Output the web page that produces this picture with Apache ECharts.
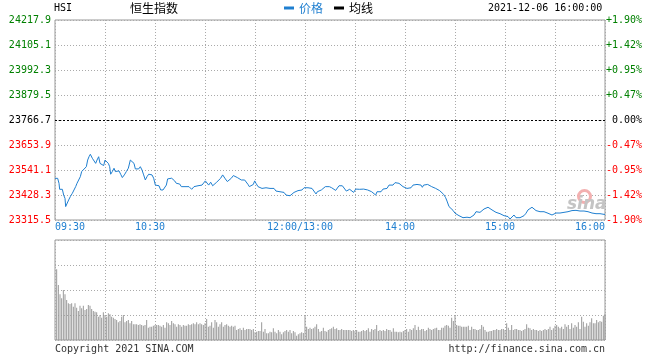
<!DOCTYPE html>
<html><head><meta charset="utf-8">
<script src="https://cdn.jsdelivr.net/npm/echarts@6/dist/echarts.min.js"></script>
<style>html,body{margin:0;padding:0;background:#fff}#c{width:660px;height:360px}</style>
</head><body><div id="c"></div>
<script>
// ---- data ----
const prevClose = 23766.7;
const priceStep = 112.8;
// minutes after 09:30 (trading minutes, lunch break removed)
const priceTimes = [0,1.6,2.4,2.8,3.8,4.4,5.2,6.0,6.4,7.2,8.2,9.2,10.4,11.6,12.4,13.2,14.4,15.2,16.0,17.2,18.8,19.6,20.4,21.2,22.4,23.6,24.4,25.2,26.2,27.0,28.2,29.2,30.0,31.2,32.0,32.8,33.4,34.4,35.4,36.2,37.2,38.4,39.4,40.4,41.6,42.8,44.0,45.2,46.4,47.4,48.2,49.2,50.2,51.2,52.2,53.2,54.2,55.2,56.2,57.2,58.2,59.2,60.2,61.2,62.4,63.4,64.8,66.0,66.8,67.6,68.8,70.0,70.8,71.8,72.8,73.8,74.8,75.8,76.8,78.0,79.2,80.4,81.2,82.0,82.8,
83.4,84.6,85.8,87.0,88.2,89.4,90.2,91.4,92.2,93.4,94.6,95.8,97.0,98.2,99.4,100.6,101.4,102.2,103.4,104.6,105.8,107.0,108.2,109.4,110.6,111.8,113.0,113.8,115.0,115.8,116.6,117.8,119.0,119.8,120.6,121.8,123.0,124.2,125.4,126.6,127.8,129.0,130.2,131.4,132.6,133.8,135.0,136.2,137.4,138.6,139.8,141.0,142.2,143.4,144.6,145.8,147.0,148.2,149.4,150.6,151.8,153.0,154.2,155.4,156.6,157.4,158.6,159.8,161.0,162.2,163.4,164.6,
166.0,167.2,168.4,169.2,170.4,171.2,172.4,173.6,174.8,175.6,176.8,178.0,179.2,180.4,181.6,182.8,184.0,185.2,186.4,187.6,188.8,190.0,191.2,192.4,193.2,194.4,195.6,196.8,198.0,199.2,200.4,201.6,202.8,204.0,205.2,206.4,207.6,208.8,210.0,211.2,212.4,213.6,214.8,216.0,217.2,218.4,219.6,220.4,221.2,222.4,223.6,224.8,226.0,227.2,228.4,229.6,230.8,232.0,233.2,234.4,235.2,236.4,237.6,238.8,240.0,241.2,242.4,243.6,244.8,246.0,247.2,
249.0,250.2,251.4,252.6,253.8,255.0,256.2,257.4,258.6,259.8,261.0,262.2,263.4,264.6,265.8,267.0,268.2,269.4,270.6,271.8,273.0,274.2,275.4,276.6,277.8,279.0,280.2,281.4,282.6,283.8,285.0,286.2,287.4,288.6,289.8,291.0,292.2,293.4,294.6,295.8,297.0,298.2,299.4,300.6,301.8,303.0,304.2,305.4,306.6,307.8,309.0,310.2,311.4,312.6,313.8,315.0,316.2,317.4,318.6,319.8,321.0,322.2,323.4,324.6,325.8,327.0,328.2,329.4,330];
const prices = [23503.5,23503.5,23481,23454,23446,23454,23428,23413,23376,23383,23406,23421,23436,23436,23466,23481,23489,23511,23534,23541,23556,23586,23601,23612,23594,23586,23571,23586,23601,23571,23571,23561,23586,23579,23571,23556,23522,23534,23549,23534,23541,23537,23522,23507,23519,23534,23549,23586,23586,23571,23546,23549,23546,23556,23541,23519,23496,23511,23522,23531,23519,23504,23473,23466,23470,23451,23451,23446,23473,23501,23496,23504,23508,23492,23481,23473,23478,23466,23458,23466,23466,23466,23470,23454,23451,
23466,23473,23470,23470,23473,23481,23492,23486,23473,23486,23470,23476,23486,23489,23504,23519,23511,23501,23489,23492,23504,23516,23516,23507,23504,23496,23489,23496,23496,23476,23466,23473,23476,23492,23481,23466,23466,23458,23454,23461,23461,23458,23458,23458,23446,23443,23443,23436,23440,23428,23421,23425,23431,23440,23443,23448,23451,23451,23461,23470,23461,23461,23458,23451,23433,23443,23448,23451,23458,23466,23466,23466,
23461,23455,23449,23455,23470,23476,23470,23464,23446,23451,23454,23446,23440,23455,23458,23454,23446,23455,23455,23451,23449,23443,23436,23428,23443,23451,23443,23455,23458,23458,23473,23466,23473,23484,23481,23481,23476,23466,23458,23458,23461,23461,23473,23473,23476,23476,23473,23463,23473,23476,23476,23473,23466,23461,23458,23454,23448,23440,23431,23416,23401,23376,23368,23359,23346,23343,23335,23331,23326,23332,23328,
23326,23334,23338,23353,23356,23350,23359,23365,23371,23373,23368,23361,23353,23350,23341,23344,23338,23335,23335,23331,23320,23316,23338,23326,23326,23326,23331,23335,23346,23361,23361,23373,23365,23358,23356,23353,23359,23353,23350,23346,23343,23338,23334,23347,23350,23347,23349,23350,23349,23353,23349,23358,23353,23359,23353,23356,23356,23356,23358,23353,23346,23347,23344,23344,23344,23344,23338,23341,23341];
// volume per minute, 09:31 .. 16:00 (relative units, panel max 100)
const volumes = [70.7,55,45.7,41.7,50,45.7,40,36.7,36,36.7,
33.3,36.7,32.3,29,34.3,31.7,34.3,30,31,35,
34.3,31,29,28.3,27.7,23.3,25,22.3,27.7,25,
23.3,26.7,25.7,23.3,22.3,21,20,17.7,19,23.3,
25,17.7,19,20,16.7,19,15.7,15.7,15.7,15,
15.7,15,14.3,15,20,12.3,13.3,13.3,14.3,15,
15,15,14.3,13.3,15,12.3,17.7,16.7,15,19,
16.7,15.7,13.3,15.7,15,13.3,15,14.3,14.3,15.7,
15,15.7,16.7,15.7,17.7,15.7,16.7,15.7,15,16.7,
21,13.3,14.3,17.7,12.3,20,17.7,13.3,15.7,17.7,
13.3,15,15.7,14.3,13.3,14.3,13.3,14.3,10,11,
11.7,10,12.3,10,11,11,11,10,11,7.7,
8.3,9,9,17.7,8.3,11,6.7,6.7,8.3,7.7,
11.7,8.3,6.7,10,8.3,5.7,7.7,9,10,8.3,
10,6.7,9,7.7,4.3,5.7,6.7,7.7,7,24.3,
13.3,11,12.3,11,11.7,13.3,15.7,11,8.3,9,
12.3,9,8.3,10,11,11.7,13.3,11,11.7,10,
10,11,10,10,10,10,10,9,10,9,
10,8.3,8.3,9,10,9,10,11.7,8.3,11,
10,11,15,9,10,9,10,9,11,10,
10,8.3,11.7,8.3,8.3,7.7,8.3,7.7,9,10,
11,8.3,11,10,11.7,15,10,13.3,10,11,
11,9,10,12.3,11,10,11,11.7,12.3,10,
10,12.3,12.3,14.3,15,14.3,12.3,22.3,19,24.3,
15,14.3,14.3,13.3,13.3,13.3,13.3,14.3,10,13.3,
11,11,10,10,11,15,13.3,10,8.3,8.3,
9,9,10,10,11,10,10,11,11,10,
16.7,12.3,10,15,10,11,11,10,10,9,
10,11,15.7,12.3,11.7,10,11,10,10,9,
10,9,10,11,10,11,13.3,10,11.7,14.3,
15,13.3,11.7,13.3,11,15.7,13.3,15,11,16.7,
12.3,15,13.3,17.7,11,23.3,18.3,13.3,16.7,14.3,
17.7,21.7,16.7,16.7,20,17.7,19,18.3,24.3,25.7];
const timeTickMinutes = [0,60,150,210,270,330];
const timeTickLabels = ['09:30','10:30','12:00/13:00','14:00','15:00','16:00'];

// ---- chart ----
const mono = "'DejaVu Sans Mono', monospace";
const cjk = "'Noto Sans CJK SC', sans-serif";
const blue = '#1f7fd0';
const gridColor = '#aaaaaa';
const dotted = [1, 2];

const chart = echarts.init(document.getElementById('c'), null, {renderer: 'canvas'});
const priceData = priceTimes.map((t, i) => [t, +(prices[i] - prevClose).toFixed(2)]);
const volData = volumes.map((v, i) => [i + 1, v]);

function timeLabel(v) {
  const k = timeTickMinutes.indexOf(v);
  if (k < 0) return '';
  if (k === 0) return '{a|' + timeTickLabels[k] + '}';
  if (k === timeTickMinutes.length - 1) return '{b|' + timeTickLabels[k] + '}';
  return '{c|' + timeTickLabels[k] + '}';
}
const lblBase = {fontFamily: mono, fontSize: 10, color: blue};

const lim = 4 * priceStep;
const option = {
  animation: false,
  backgroundColor: '#fff',
  title: [
    {text: 'HSI', left: 54, top: 3, padding: 0, textStyle: {fontFamily: mono, fontSize: 10, fontWeight: 'normal', color: '#000'}},
    {text: '恒生指数', left: 130, top: 2, padding: 0, textStyle: {fontFamily: cjk, fontSize: 12, fontWeight: 'normal', color: '#000'}},
    {text: '2021-12-06 16:00:00', left: 488, top: 3, padding: 0, textStyle: {fontFamily: mono, fontSize: 10, fontWeight: 'normal', color: '#000'}},
    {text: 'Copyright 2021 SINA.COM', left: 55, top: 344, padding: 0, textStyle: {fontFamily: mono, fontSize: 10, fontWeight: 'normal', color: '#333'}},
    {text: 'http://finance.sina.com.cn', right: 55, top: 344, padding: 0, textStyle: {fontFamily: mono, fontSize: 10, fontWeight: 'normal', color: '#333'}}
  ],
  legend: {
    left: 284, top: 2, padding: 0, icon: 'rect', itemWidth: 10, itemHeight: 3, itemGap: 11,
    textStyle: {fontFamily: cjk, fontSize: 12},
    data: [{name: '价格', textStyle: {color: blue}}, {name: '均线', textStyle: {color: '#000'}}]
  },
  grid: [
    {left: 55, top: 20, width: 550, height: 200, show: true, borderColor: '#999', borderWidth: 1, containLabel: false},
    {left: 55, top: 240, width: 550, height: 100, show: true, borderColor: '#999', borderWidth: 1, containLabel: false}
  ],
  xAxis: [
    {type: 'value', gridIndex: 0, min: 0, max: 330, interval: 30,
     axisLine: {show: false}, axisTick: {show: false},
     splitLine: {show: true, lineStyle: {color: gridColor, type: dotted, width: 1}},
     axisLabel: {margin: 2, fontFamily: mono, fontSize: 10, color: blue, formatter: timeLabel,
       rich: {a: Object.assign({padding: [0, 0, 0, 30]}, lblBase),
              b: Object.assign({padding: [0, 30, 0, 0]}, lblBase),
              c: Object.assign({padding: [0, 10, 0, 0]}, lblBase)}}},
    {type: 'value', gridIndex: 1, min: 0, max: 330, interval: 30,
     axisLine: {show: false}, axisTick: {show: false}, axisLabel: {show: false},
     splitLine: {show: true, lineStyle: {color: gridColor, type: dotted, width: 1}}}
  ],
  yAxis: [
    {type: 'value', gridIndex: 0, position: 'left', min: -lim, max: lim, interval: priceStep,
     axisLine: {show: false}, axisTick: {show: false},
     splitLine: {show: true, lineStyle: {color: gridColor, type: dotted, width: 1}},
     axisLabel: {margin: 4, fontFamily: mono, fontSize: 10, padding: [0, 0, 5, 0],
       formatter: v => (prevClose + v).toFixed(1),
       color: v => v > 0.01 ? '#008000' : (v < -0.01 ? '#ff0000' : '#000')}},
    {type: 'value', gridIndex: 0, position: 'right', min: -lim, max: lim, interval: priceStep,
     axisLine: {show: false}, axisTick: {show: false}, splitLine: {show: false},
     axisLabel: {margin: 37, align: 'right', fontFamily: mono, fontSize: 10, padding: [0, 0, 5, 0],
       formatter: v => { const p = v / prevClose * 100; const s = Math.abs(p) < 0.005 ? '' : (p > 0 ? '+' : '-'); return s + Math.abs(p).toFixed(2) + '%'; },
       color: v => v > 0.01 ? '#008000' : (v < -0.01 ? '#ff0000' : '#000')}},
    {type: 'value', gridIndex: 1, min: 0, max: 100, interval: 25,
     axisLine: {show: false}, axisTick: {show: false}, axisLabel: {show: false},
     splitLine: {show: true, lineStyle: {color: gridColor, type: dotted, width: 1}}}
  ],
  graphic: [
    {type: 'circle', left: 576, top: 188, shape: {r: 6}, style: {fill: 'none', stroke: '#f3b0b0', lineWidth: 3}, z: 1},
    {type: 'text', left: 567, top: 196, style: {text: 'sina', font: 'italic bold 17px "DejaVu Sans", sans-serif', fill: '#c4c4c4'}, z: 1}
  ],
  series: [
    {name: '价格', type: 'line', xAxisIndex: 0, yAxisIndex: 0, data: priceData, showSymbol: false, symbol: 'none',
     color: blue, lineStyle: {color: blue, width: 1}, z: 3,
     markLine: {silent: true, symbol: 'none', label: {show: false}, lineStyle: {color: '#000', type: [2, 2], width: 1},
       data: [{yAxis: 0}]}},
    {name: '均线', type: 'line', xAxisIndex: 0, yAxisIndex: 0, data: [], color: '#000', showSymbol: false},
    {name: '成交量', type: 'bar', xAxisIndex: 1, yAxisIndex: 2, data: volData, barWidth: 1,
     itemStyle: {color: '#999'}}
  ]
};
chart.setOption(option);
</script>
</body></html>
